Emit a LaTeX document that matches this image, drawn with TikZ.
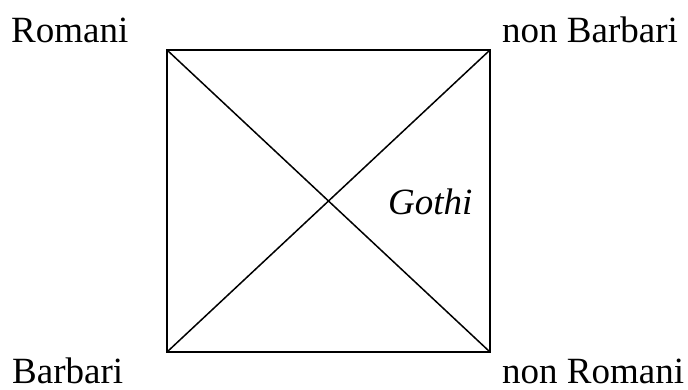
\documentclass[tikz,border=0pt]{standalone}
\usepackage{fontspec}
\setmainfont{Liberation Serif}
\begin{document}
\begin{tikzpicture}[x=1pt,y=1pt,
  lbl/.style={anchor=base west,inner sep=0pt,font=\fontsize{37}{40}\selectfont},
  edge/.style={line width=1.5pt,line join=miter}]
\useasboundingbox (0,0) rectangle (688,389);
\coordinate (tl) at (167,339);
\coordinate (tr) at (490,339);
\coordinate (br) at (490,37);
\coordinate (bl) at (167,37);
\draw[edge] (tl) -- (tr) -- (br) -- (bl) -- cycle;
\draw[edge] (tl) -- (br);
\draw[edge] (bl) -- (tr);
\node[lbl] (romani) at (11,346) {Romani};
\node[lbl] (nonbarbari) at (502,346) {non Barbari};
\node[lbl,text depth=0pt] (barbari) at (12,6) {Barbari};
\node[lbl,text depth=0pt] (nonromani) at (502,6) {non Romani};
\node[lbl,font=\fontsize{37}{40}\selectfont\itshape] (gothi) at (388,175) {Gothi};
\end{tikzpicture}
\end{document}
